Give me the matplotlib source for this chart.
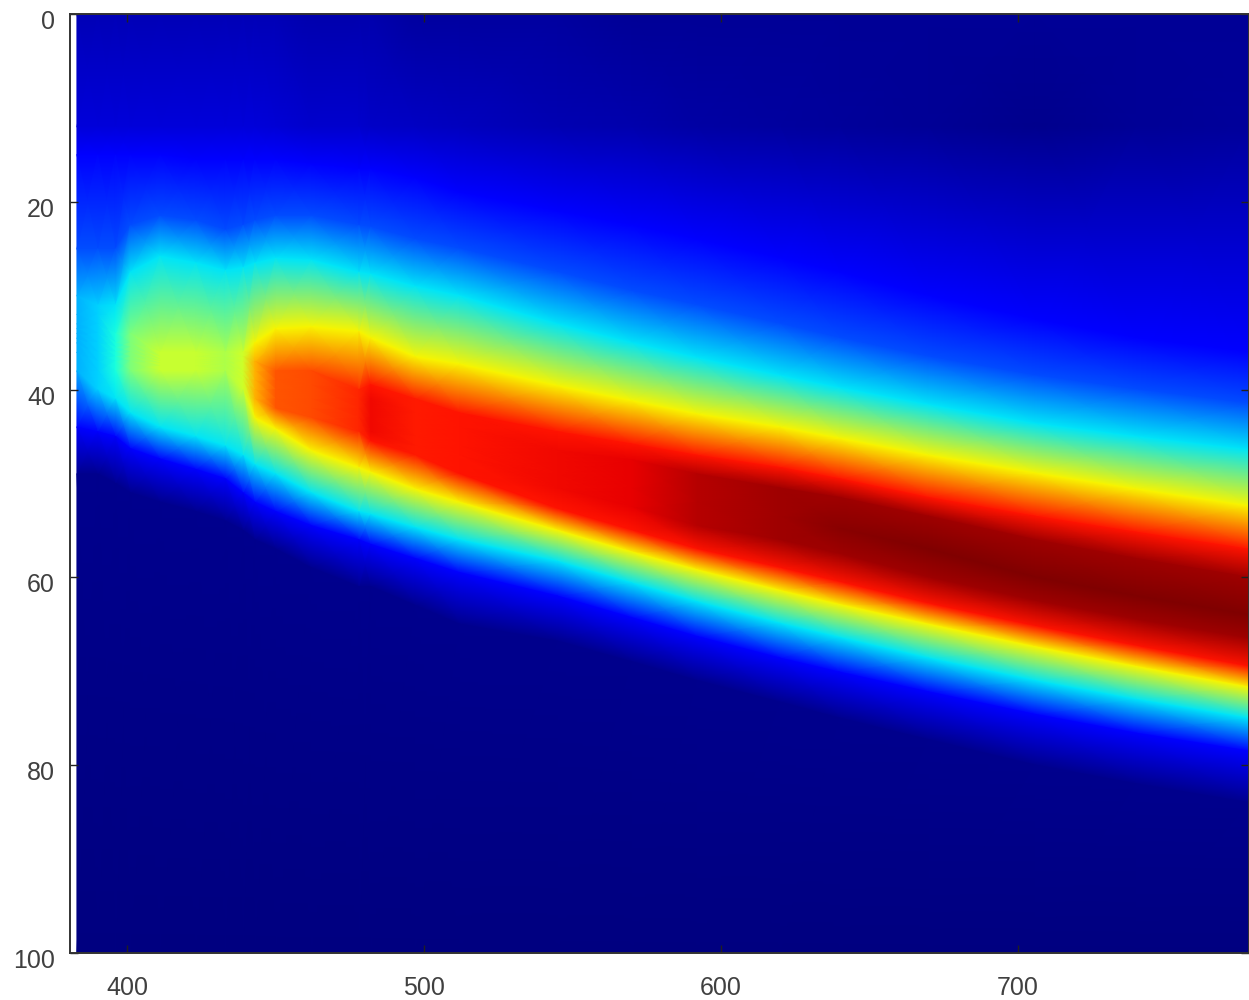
import matplotlib
matplotlib.use("Agg")
import matplotlib.pyplot as plt
from matplotlib.transforms import ScaledTranslation
import numpy as np

plt.rcParams['font.family'] = ['Liberation Sans', 'DejaVu Sans']

wavelengths = [383, 390, 396, 401, 411, 423, 433, 439, 443, 450, 462, 478,
               482, 497, 512, 545, 570, 592, 620, 640, 670, 706, 740, 778]

# intensity at the very top, at depth 12, and at the crest of the band
top_value = [.05, .05, .05, .05, .05, .05, .05, .05, .05, .05, .04, .04,
             .04, .03, .03, .03, .02, .02, .02, .02, .02, .02, .02, .02]
upper_value = [.08, .08, .08, .08, .08, .08, .08, .08, .08, .075, .07, .07,
               .065, .06, .055, .045, .04, .035, .03, .025, .02, .015, .02, .025]
crest_value = [.30, .33, .38, .50, .59, .59, .56, .60, .72, .82, .83, .87,
               .90, .88, .89, .90, .91, .95, .97, .99, 1.0, 1.0, 1.0, 1.0]

# depth at which each column reaches a colour
blue_top = [15, 15, 15, 15, 15, 15.5, 15.5, 15.5, 15.5, 15.5, 16, 16.5,
            16.5, 17.5, 19, 21, 22.5, 24, 26, 27.5, 30, 32.5, 34.5, 36]
sky_top = [25, 25, 25, 22.5, 21.5, 22, 23, 22.5, 22, 21.5, 21.5, 22.5,
           22.7, 24, 25, 27.5, 29.5, 31, 33, 34.5, 36.5, 38.5, 40, 41.5]
cyan_top = [30, 31, 31, 27.5, 25.8, 26.5, 27.3, 27, 26.5, 26, 26.2, 27.5,
            27.7, 29, 30, 33, 35, 36.6, 38.5, 39.8, 41.6, 43.6, 45, 46.4]
yellow_top = [32, 32, 34, 34, 36, 36, 36, 36, 35, 33.5, 33.3, 33.8,
              34.5, 36.5, 37.3, 39.6, 41.2, 42.6, 44, 45.2, 47, 48.9, 50.6, 52.4]
red_top = [33, 33, 35, 35, 36.5, 36.5, 36.5, 36.5, 37, 38, 38, 40,
           39.5, 41, 42.5, 44.5, 45.8, 47, 48.3, 49.5, 51.5, 53.5, 55.2, 57]
deep_top = [33.5, 34, 35.5, 35.5, 36.8, 36.8, 36.8, 37, 38, 39, 39.5, 41,
            41, 42.5, 44, 46.5, 47.5, 49, 50.5, 51.5, 53.5, 56, 58, 60]
crest = [34, 35, 36, 36, 37, 37, 37, 38, 39, 40, 41, 42,
         43, 45, 46, 49, 50.5, 52, 53.5, 54.8, 57, 60, 62, 64]
deep_bottom = [34.5, 36, 36.5, 36.5, 37.2, 37.2, 37.2, 38.5, 40, 41, 42, 43,
               44.5, 46, 47, 50.5, 52.5, 54.5, 56, 57.5, 60, 62.5, 64.5, 66.5]
red_bottom = [35, 37, 37, 37, 37.5, 37.5, 37.5, 39, 41, 42, 43, 44.5,
              45.5, 47, 49, 52.7, 55, 57, 59, 60.5, 62.8, 65.2, 67.3, 69.5]
yellow_bottom = [36, 38, 38, 38, 38, 38, 38, 40, 43, 44.2, 46.5, 48.3,
                 48.8, 50.6, 52, 55, 57.3, 59.2, 61.4, 62.9, 65, 67.4, 69.5, 71.7]
cyan_bottom = [38, 40, 41, 42.5, 44, 45, 46, 47, 48, 49, 51, 53,
               53.3, 54.7, 56, 58.3, 60.6, 62.6, 64.9, 66.4, 68.6, 71, 73, 75]
blue_bottom = [44, 44.5, 45, 46.3, 47.4, 48.5, 49.5, 51, 52, 53, 54.5, 56,
               56.5, 58, 59.5, 62, 64.3, 66.3, 68.6, 70.1, 72.2, 74.6, 76.6, 78.5]
dark_bottom = [49, 49, 50, 51, 52, 53, 54, 55, 56, 57, 59, 61,
               61, 63, 65, 66.8, 69, 71, 73.3, 75, 77.3, 80, 82, 84]

blue, sky, cyan, yellow, red, deep, dark = .11, .20, .35, .65, .89, .97, .015

x_ticks = [400, 500, 600, 700]
y_ticks = [0, 20, 40, 60, 80, 100]

n = len(wavelengths)
edges = [np.zeros(n), np.full(n, 12.0), blue_top, sky_top, cyan_top, yellow_top, red_top, deep_top, crest,
         deep_bottom, red_bottom, yellow_bottom, cyan_bottom, blue_bottom, dark_bottom, np.full(n, 100.0)]
levels = [top_value, upper_value, blue, sky, cyan, yellow, red, deep, crest_value,
          deep, red, yellow, cyan, blue, dark, 0]

Y = np.array(edges, dtype=float)
X = np.tile(wavelengths, (len(edges), 1))
# a column never goes above its own crest
C = np.array([np.minimum(np.full(n, l) if np.isscalar(l) else l, crest_value) for l in levels])

fig = plt.figure(figsize=(12.49, 10), dpi=100)
ax = fig.add_axes([69.5 / 1249, 1 - 953 / 1000, 1 - 69.5 / 1249, 939 / 1000])
ax.pcolormesh(X, Y, C, cmap="jet", vmin=0, vmax=1, shading="gouraud")

ax.set_xlim(380.5, 778)
ax.set_ylim(100, 0)
ax.set_xticks(x_ticks)
ax.set_yticks(y_ticks)
ax.tick_params(direction="in", length=6, width=1, top=True, right=True, labelsize=18,
               labelcolor="#404040", color="#202020")
ax.tick_params(axis="x", pad=16.5)
ax.tick_params(axis="y", pad=10.5)
for s in ax.spines.values():
    s.set_linewidth(1.4)
    s.set_color("#333333")

# the y labels sit a little under their ticks in the original
shift = ScaledTranslation(0, -4 / 72, fig.dpi_scale_trans)
for lab in ax.get_yticklabels():
    lab.set_transform(lab.get_transform() + shift)

fig.savefig("out.png", dpi=100)
plt.close()
